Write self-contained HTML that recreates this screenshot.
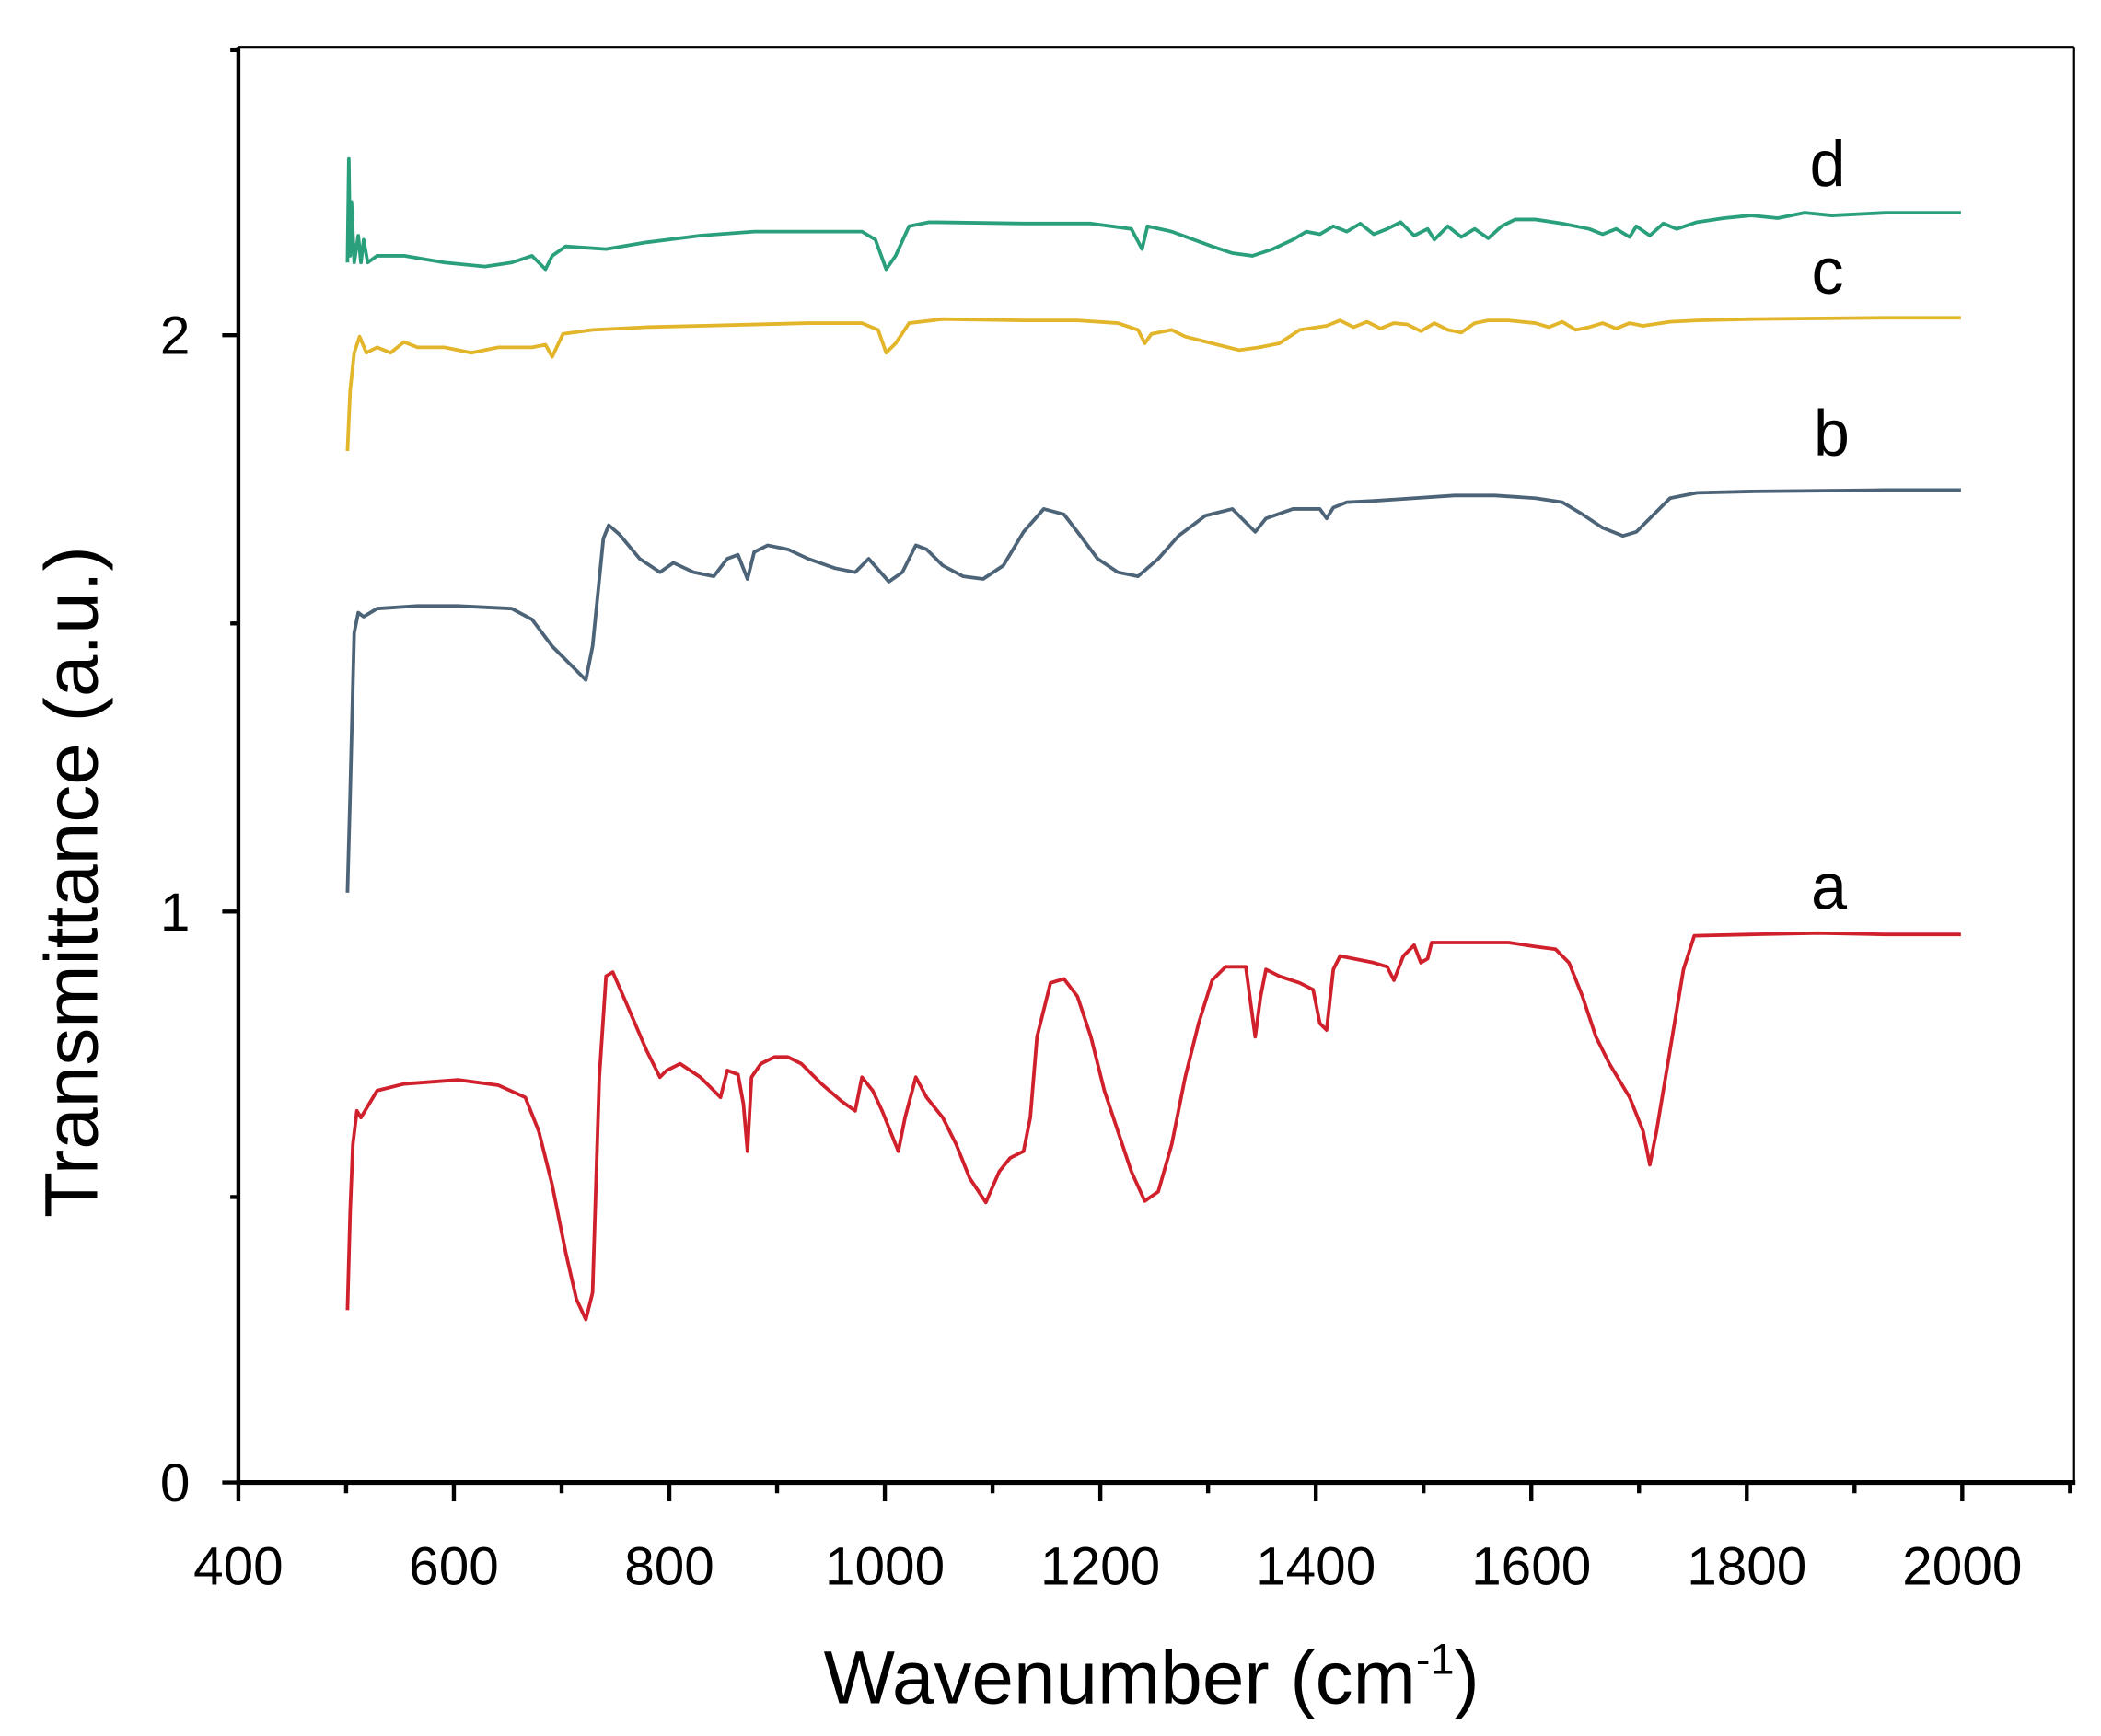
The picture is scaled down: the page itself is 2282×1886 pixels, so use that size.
<!DOCTYPE html>
<html><head><meta charset="utf-8"><style>html,body{margin:0;padding:0;background:#fff}svg{display:block}</style></head>
<body>
<svg width="2282" height="1886" viewBox="0 0 1560 1289.3" preserveAspectRatio="none" xmlns="http://www.w3.org/2000/svg" font-family="Liberation Sans, sans-serif">
<rect width="1560" height="1290" fill="#fff"/>
<line x1="177" y1="35" x2="177" y2="1102" stroke="#000" stroke-width="3"/>
<line x1="175.5" y1="1101" x2="1541" y2="1101" stroke="#000" stroke-width="3.5"/>
<line x1="177" y1="35" x2="1540" y2="35" stroke="#000" stroke-width="1.5"/>
<line x1="1540" y1="35" x2="1540" y2="1102" stroke="#000" stroke-width="1.5"/>
<g stroke="#000" stroke-width="3">
<line x1="177" y1="1101" x2="177" y2="1115"/><line x1="337" y1="1101" x2="337" y2="1115"/><line x1="497" y1="1101" x2="497" y2="1115"/><line x1="657" y1="1101" x2="657" y2="1115"/><line x1="817" y1="1101" x2="817" y2="1115"/><line x1="977" y1="1101" x2="977" y2="1115"/><line x1="1137" y1="1101" x2="1137" y2="1115"/><line x1="1297" y1="1101" x2="1297" y2="1115"/><line x1="1457" y1="1101" x2="1457" y2="1115"/>
<line x1="257" y1="1101" x2="257" y2="1109"/><line x1="417" y1="1101" x2="417" y2="1109"/><line x1="577" y1="1101" x2="577" y2="1109"/><line x1="737" y1="1101" x2="737" y2="1109"/><line x1="897" y1="1101" x2="897" y2="1109"/><line x1="1057" y1="1101" x2="1057" y2="1109"/><line x1="1217" y1="1101" x2="1217" y2="1109"/><line x1="1377" y1="1101" x2="1377" y2="1109"/><line x1="1537" y1="1101" x2="1537" y2="1109"/>
<line x1="165" y1="1101" x2="177" y2="1101"/><line x1="165" y1="677" x2="177" y2="677"/><line x1="165" y1="249" x2="177" y2="249"/>
<line x1="171" y1="889" x2="177" y2="889"/><line x1="171" y1="463" x2="177" y2="463"/><line x1="171" y1="37" x2="177" y2="37"/>
</g>
<g font-size="40" text-anchor="middle" fill="#000">
<text x="177" y="1177">400</text><text x="337" y="1177">600</text><text x="497" y="1177">800</text><text x="657" y="1177">1000</text><text x="817" y="1177">1200</text><text x="977" y="1177">1400</text><text x="1137" y="1177">1600</text><text x="1297" y="1177">1800</text><text x="1457" y="1177">2000</text>
<text x="130" y="1115">0</text><text x="130" y="691">1</text><text x="130" y="263">2</text>
</g>
<text x="855" y="1265" font-size="56" text-anchor="middle">Wavenumber (cm<tspan font-size="32" dy="-22">-1</tspan><tspan dy="22">)</tspan></text>
<text transform="translate(72,655) rotate(-90)" font-size="56" text-anchor="middle">Transmittance (a.u.)</text>
<g font-size="48" text-anchor="middle">
<text x="1357" y="138">d</text><text x="1357" y="218">c</text><text x="1360" y="338">b</text><text x="1358" y="675">a</text>
</g>
<g fill="none" stroke-width="2.6" stroke-linejoin="round">
<polyline stroke="#d0202c" points="258,973 260,900 262,850 265,825 268,830 280,810 300,805 340,802 370,806 390,815 400,840 410,880 420,930 428,965 435,980 440,960 445,800 450,725 455,722 465,745 480,780 490,800 495,795 505,790 520,800 535,815 540,795 548,798 552,820 555,855 558,800 565,790 575,785 585,785 595,790 610,805 625,818 635,825 640,800 648,810 655,825 667,855 672,830 680,800 688,815 700,830 710,850 720,875 732,893 742,870 750,860 760,855 765,830 770,770 780,730 790,727 800,740 810,770 820,810 830,840 840,870 850,892 860,885 870,850 880,800 890,760 900,728 910,718 925,718 932,770 936,740 940,720 950,725 965,730 975,735 980,760 985,765 990,720 995,710 1005,712 1020,715 1030,718 1035,728 1042,710 1050,702 1055,715 1060,712 1063,700 1080,700 1100,700 1120,700 1140,703 1155,705 1165,715 1175,740 1185,770 1195,790 1210,815 1220,840 1225,865 1230,840 1240,780 1250,720 1258,695 1300,694 1350,693 1400,694 1456,694"/>
<polyline stroke="#4d6478" points="258,663 260,590 263,470 266,455 270,458 280,452 310,450 340,450 380,452 395,460 410,480 425,495 435,505 440,480 448,400 452,390 460,397 475,415 490,425 500,418 515,425 530,428 540,415 548,412 555,430 560,410 570,405 585,408 600,415 620,422 635,425 645,415 660,432 670,425 680,405 688,408 700,420 715,428 730,430 745,420 760,395 775,378 790,382 800,395 815,415 830,425 845,428 860,415 875,398 895,383 915,378 925,388 932,395 940,385 960,378 980,378 985,385 990,377 1000,373 1020,372 1050,370 1080,368 1110,368 1140,370 1160,373 1175,382 1190,392 1205,398 1215,395 1225,385 1240,370 1260,366 1300,365 1400,364 1456,364"/>
<polyline stroke="#e2b52a" points="258,335 260,290 263,262 267,250 272,262 280,258 290,262 300,254 310,258 330,258 350,262 370,258 395,258 405,256 410,265 418,248 440,245 480,243 520,242 560,241 600,240 640,240 652,245 658,262 665,255 675,240 700,237 760,238 800,238 830,240 845,245 850,255 855,248 870,245 880,250 900,255 920,260 935,258 950,255 965,245 985,242 995,238 1005,243 1015,239 1025,244 1035,240 1045,241 1055,246 1065,240 1075,245 1085,247 1095,240 1105,238 1120,238 1140,240 1150,243 1160,239 1170,245 1180,243 1190,240 1200,244 1210,240 1220,242 1240,239 1260,238 1300,237 1400,236 1456,236"/>
<polyline stroke="#2a9f7c" points="258,195 259,118 260,190 261,150 263,195 266,175 268,195 270,178 273,195 280,190 300,190 330,195 360,198 380,195 395,190 405,200 410,190 420,183 450,185 480,180 520,175 560,172 600,172 640,172 650,178 658,200 665,190 675,168 690,165 760,166 810,166 840,170 848,185 852,168 870,172 900,183 915,188 930,190 945,185 960,178 970,172 980,174 990,168 1000,172 1010,166 1020,174 1030,170 1040,165 1050,175 1060,170 1065,178 1075,168 1085,176 1095,170 1105,177 1115,168 1125,163 1140,163 1160,166 1180,170 1190,174 1200,170 1210,176 1215,168 1225,175 1235,166 1245,170 1260,165 1280,162 1300,160 1320,162 1340,158 1360,160 1400,158 1456,158"/>
</g>
</svg>
</body></html>
